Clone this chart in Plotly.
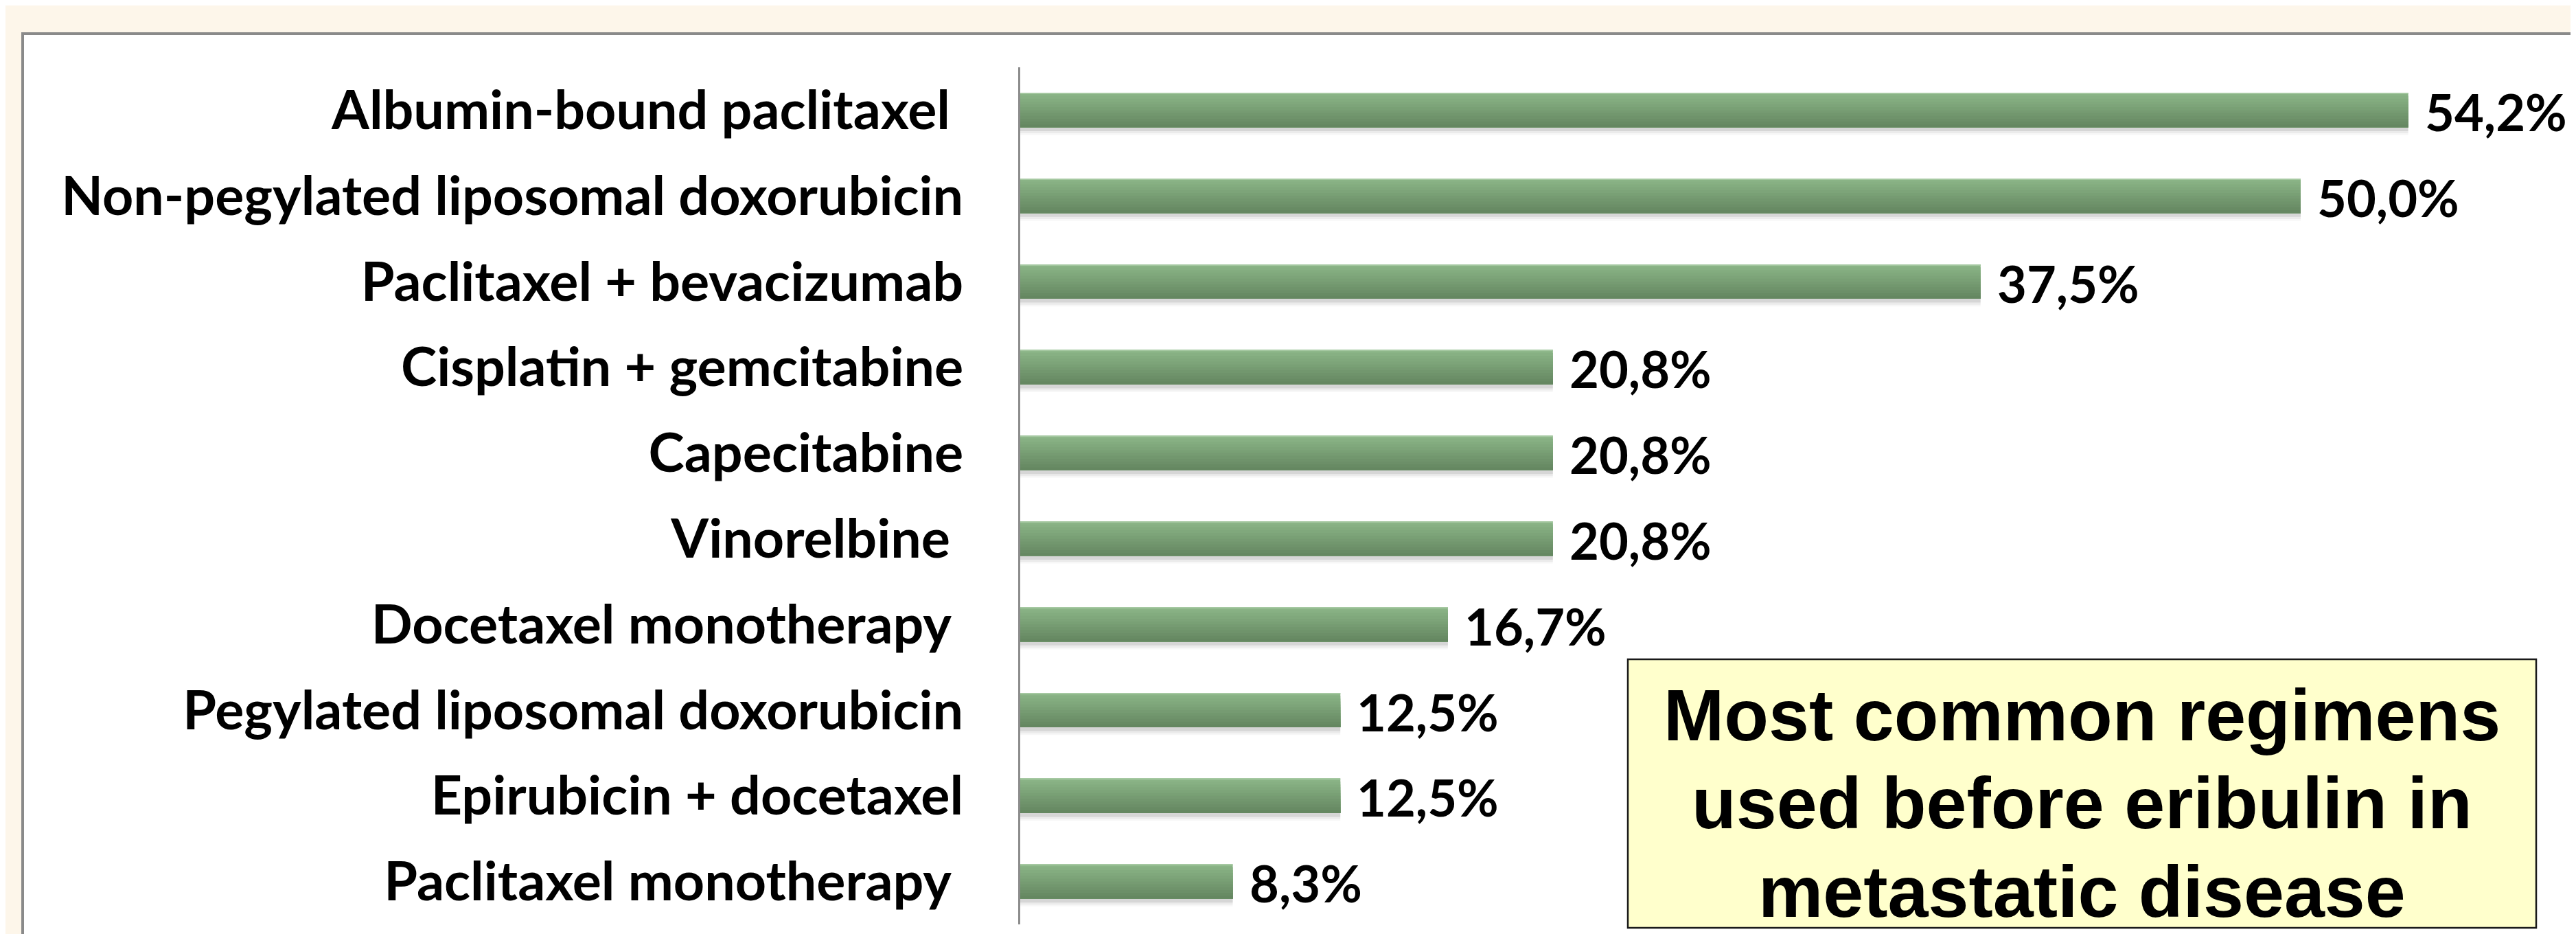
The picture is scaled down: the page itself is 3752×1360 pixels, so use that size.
import plotly.graph_objects as go

# ---------------- data ----------------
categories = [
    "Albumin-bound paclitaxel\u00a0",
    "Non-pegylated liposomal doxorubicin",
    "Paclitaxel + bevacizumab",
    "Cisplatin + gemcitabine",
    "Capecitabine",
    "Vinorelbine\u00a0",
    "Docetaxel monotherapy\u00a0",
    "Pegylated liposomal doxorubicin",
    "Epirubicin + docetaxel",
    "Paclitaxel monotherapy\u00a0",
]
values = [54.2, 50.0, 37.5, 20.8, 20.8, 20.8, 16.7, 12.5, 12.5, 8.3]
value_labels = [f"{v:.1f}".replace(".", ",") + "%" for v in values]
box_lines = ["Most common regimens", "used before eribulin in", "metastatic disease"]

# ---------------- layout constants (pixels) ----------------
W, H = 3752, 1360
L, R, T, B = 1478, 3700, 90, 1338
PX_PER_UNIT = 37.3
x_max = (R - L) / PX_PER_UNIT


def px_x(px):
    return (px - L) / (R - L)


def px_y(py):
    return (B - py) / (B - T)


fig = go.Figure()

# shadow under bars
shadow = [(0.20, 0.245, "rgba(0,0,0,0.16)"), (0.245, 0.27, "rgba(0,0,0,0.08)"),
          (0.27, 0.29, "rgba(0,0,0,0.03)")]
for o0, o1, col in shadow:
    fig.add_trace(go.Bar(
        x=values, y=list(range(len(categories))), orientation="h",
        width=o1 - o0, offset=o0, marker=dict(color=col, line=dict(width=0)),
        hoverinfo="skip", showlegend=False, cliponaxis=False,
    ))

# gradient bars (stacked overlays, each extending to bar bottom)
top_c = (138, 180, 134)
bot_c = (101, 135, 97)
N = 12
half = 0.2
for i in range(N):
    t = i / (N - 1)
    c = tuple(round(top_c[k] + (bot_c[k] - top_c[k]) * t) for k in range(3))
    o0 = -half + i * (2 * half / N)
    fig.add_trace(go.Bar(
        x=values, y=list(range(len(categories))), orientation="h",
        width=half - o0, offset=o0,
        marker=dict(color=f"rgb{c}", line=dict(width=0)),
        hoverinfo="skip", showlegend=False,
    ))
# light top edge
fig.add_trace(go.Bar(
    x=values, y=list(range(len(categories))), orientation="h",
    width=0.012, offset=-half,
    marker=dict(color="rgb(165,200,161)", line=dict(width=0)),
    hoverinfo="skip", showlegend=False,
))

annotations = []
for i, (v, lab) in enumerate(zip(values, value_labels)):
    annotations.append(dict(
        x=v, y=i, xref="x", yref="y", text=lab, showarrow=False,
        xanchor="left", yanchor="middle", xshift=22, yshift=-2,
        font=dict(family="Lato", size=74, color="black", weight="bold"),
    ))

# text box lines
box_cx = (2363 + 3686) / 2
for line, py in zip(box_lines, [1033, 1161, 1290]):
    annotations.append(dict(
        x=px_x(box_cx), y=px_y(py), xref="paper", yref="paper", text=line,
        showarrow=False, xanchor="center", yanchor="middle",
        font=dict(family="Liberation Sans", size=106, color="black", weight="bold"),
    ))

shapes = [
    # white panel with grey border
    dict(type="rect", xref="paper", yref="paper",
         x0=px_x(25), x1=px_x(3790), y0=px_y(1400), y1=px_y(41),
         fillcolor="white", line=dict(color="#8a8a8a", width=4), layer="below"),
    # yellow text box
    dict(type="rect", xref="paper", yref="paper",
         x0=px_x(2363), x1=px_x(3686), y0=px_y(1343), y1=px_y(952),
         fillcolor="#FFFFCC", line=dict(color="#1a1a1a", width=2.5), layer="above"),
]

fig.update_layout(
    width=W, height=H,
    margin=dict(l=L, r=W - R, t=T, b=H - B, pad=0),
    paper_bgcolor="#FDF6EA",
    plot_bgcolor="rgba(0,0,0,0)",
    barmode="overlay",
    showlegend=False,
    shapes=shapes,
    annotations=annotations,
    xaxis=dict(range=[0, x_max], visible=False, showgrid=False, zeroline=False),
    yaxis=dict(
        tickmode="array", tickvals=list(range(len(categories))), ticktext=categories,
        range=[len(categories) - 0.5, -0.5],
        showline=True, linecolor="#8c8c8c", linewidth=3,
        showgrid=False, zeroline=False, ticks="",
        ticklabelstandoff=64,
        tickfont=dict(family="Lato", size=79, color="black", weight="bold"),
    ),
)

fig.write_html("out.html")
